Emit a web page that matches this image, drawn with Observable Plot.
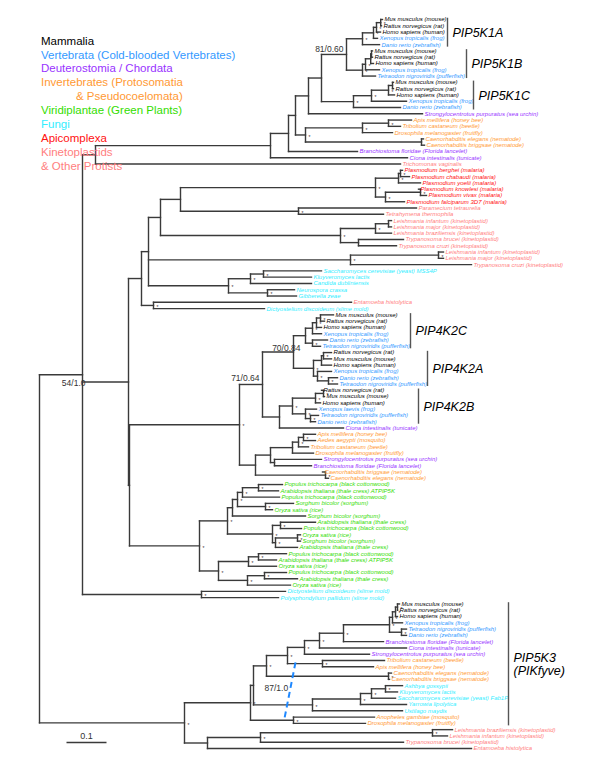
<!DOCTYPE html>
<html><head><meta charset="utf-8">
<script src="https://cdn.jsdelivr.net/npm/d3@7"></script>
<script src="https://cdn.jsdelivr.net/npm/@observablehq/plot@0.6"></script>
<style>
body{margin:0;background:#fff}
#wrap{position:relative;width:600px;height:776px;overflow:hidden;font-family:"Liberation Sans",Arial,Helvetica,sans-serif}
#wrap svg{display:block}
.lg{position:absolute;font-size:11.5px;line-height:13px;white-space:nowrap}
</style>
</head><body><div id="wrap"></div>
<script>
// ---------- DATA ----------
const leafNames = [
"Mus musculus (mouse)","Rattus norvegicus (rat)","Homo sapiens (human)","Xenopus tropicalis (frog)","Danio rerio (zebrafish)",
"Mus musculus (mouse)","Rattus norvegicus (rat)","Homo sapiens (human)","Xenopus tropicalis (frog)","Tetraodon nigroviridis (pufferfish)",
"Mus musculus (mouse)","Rattus norvegicus (rat)","Homo sapiens (human)","Xenopus tropicalis (frog)","Danio rerio (zebrafish)",
"Strongylocentrotus purpuratus (sea urchin)","Apis mellifera (honey bee)","Tribolium castaneum (beetle)","Drosophila melanogaster (fruitfly)","Caenorhabditis elegans (nematode)","Caenorhabditis briggsae (nematode)",
"Branchiostoma floridae (Florida lancelet)","Ciona intestinalis (tunicate)","Trichomonas vaginalis",
"Plasmodium berghei (malaria)","Plasmodium chabaudi (malaria)","Plasmodium yoelii (malaria)","Plasmodium knowlesi (malaria)","Plasmodium vivax (malaria)","Plasmodium falciparum 3D7 (malaria)",
"Paramecium tetraurelia","Tetrahymena thermophila",
"Leishmania infantum (kinetoplastid)","Leishmania major (kinetoplastid)","Leishmania braziliensis (kinetoplastid)","Trypanosoma brucei (kinetoplastid)","Trypanosoma cruzi (kinetoplastid)",
"Leishmania infantum (kinetoplastid)","Leishmania major (kinetoplastid)","Trypanosoma cruzi (kinetoplastid)",
"Saccharomyces cerevisiae (yeast) MSS4P","Kluyveromyces lactis","Candida dubliniensis","Neurospora crassa","Gibberella zeae",
"Entamoeba histolytica","Dictyostelium discoideum (slime mold)",
"Mus musculus (mouse)","Rattus norvegicus (rat)","Homo sapiens (human)","Xenopus tropicalis (frog)","Danio rerio (zebrafish)","Tetraodon nigroviridis (pufferfish)",
"Rattus norvegicus (rat)","Mus musculus (mouse)","Homo sapiens (human)","Xenopus tropicalis (frog)","Danio rerio (zebrafish)","Tetraodon nigroviridis (pufferfish)",
"Rattus norvegicus (rat)","Mus musculus (mouse)","Homo sapiens (human)","Xenopus laevis (frog)","Tetraodon nigroviridis (pufferfish)","Danio rerio (zebrafish)",
"Ciona intestinalis (tunicate)","Apis mellifera (honey bee)","Aedes aegypti (mosquito)","Tribolium castaneum (beetle)","Drosophila melanogaster (fruitfly)","Strongylocentrotus purpuratus (sea urchin)","Branchiostoma floridae (Florida lancelet)","Caenorhabditis briggsae (nematode)","Caenorhabditis elegans (nematode)",
"Populus trichocarpa (black cottonwood)","Arabidopsis thaliana (thale cress) ATPIP5K","Populus trichocarpa (black cottonwood)","Sorghum bicolor (sorghum)","Oryza sativa (rice)","Sorghum bicolor (sorghum)","Arabidopsis thaliana (thale cress)","Populus trichocarpa (black cottonwood)","Oryza sativa (rice)","Sorghum bicolor (sorghum)","Arabidopsis thaliana (thale cress)","Populus trichocarpa (black cottonwood)","Arabidopsis thaliana (thale cress) ATPIP5K","Oryza sativa (rice)","Populus trichocarpa (black cottonwood)","Arabidopsis thaliana (thale cress)","Oryza sativa (rice)",
"Dictyostelium discoideum (slime mold)","Polysphondylium pallidum (slime mold)",
"Mus musculus (mouse)","Rattus norvegicus (rat)","Homo sapiens (human)","Xenopus tropicalis (frog)","Tetraodon nigroviridis (pufferfish)","Danio rerio (zebrafish)","Branchiostoma floridae (Florida lancelet)","Ciona intestinalis (tunicate)","Strongylocentrotus purpuratus (sea urchin)","Tribolium castaneum (beetle)","Apis mellifera (honey bee)","Caenorhabditis elegans (nematode)","Caenorhabditis briggsae (nematode)",
"Ashbya gossypii","Kluyveromyces lactis","Saccharomyces cerevisiae (yeast) Fab1P","Yarrowia lipolytica","Ustilago maydis","Anopheles gambiae (mosquito)","Drosophila melanogaster (fruitfly)",
"Leishmania braziliensis (kinetoplastid)","Leishmania infantum (kinetoplastid)","Trypanosoma brucei (kinetoplastid)","Entamoeba histolytica"
];
// taxon group of every leaf (M mammal, V vertebrate, D deuterostome, I invertebrate, P plant, F fungus, A apicomplexa, K protist)
const leafGroups = ("MMMVV"+"MMMVV"+"MMMVV"+"D"+"IIIII"+"DD"+"K"+"AAAAAA"+"KKKKKKKKKK"+"FFFFF"+"K"+"F"+
  "MMMVVV"+"MMMVVV"+"MMMVVV"+"D"+"IIII"+"DD"+"II"+"PPPPPPPPPPPPPPPPP"+"FF"+
  "MMMVVV"+"DDD"+"IIII"+"FFFFF"+"II"+"KKKK").split("");
// distance of each leaf from the root (substitutions / site)
const leafDepth = [
0.8575,0.855,0.8525,0.845,0.85, 0.8325,0.8325,0.835,0.85,0.84, 0.885,0.885,0.8875,0.9175,0.9025,
0.9575,0.93,0.9025,0.8825,0.96,0.9625, 0.795,0.92,0.9025,
0.9075,0.925,0.9525,0.9475,0.9675,0.9125, 0.9425,0.86,
0.88,0.88,0.88,0.91,0.8925, 1.01,1.01,1.08,
0.705,0.68,0.68,0.6375,0.6425, 0.78,0.5625,
0.735,0.7125,0.705,0.705,0.72,0.7025, 0.73,0.73,0.73,0.73,0.745,0.745, 0.705,0.7125,0.7025,0.6925,0.6975,0.69,
0.76,0.69,0.69,0.6725,0.685,0.705,0.68,0.7075,0.7225,
0.6075,0.5975,0.6,0.635,0.5825,0.665,0.69,0.655,0.6525,0.6525,0.645,0.6175,0.5925,0.5925,0.6175,0.645,0.6275,
0.615,0.5975,
0.9,0.895,0.895,0.9075,0.9175,0.9175,0.86,0.9175,0.825,0.8625,0.835,0.88,0.875,
0.9075,0.895,0.89,0.9175,0.9075,0.8375,0.815,
1.0325,1.02,0.91,1.08
];
// subtrees: leaves are numbered 1..117, internal nodes carry their distance from the root
const tPIP5K1A = "((((1,2)*:0.853,3)*:0.8425,4)*:0.835,5)*:0.8075";
const tPIP5K1B = "((((6,7):0.830,8):0.828,9)*:0.815,10)*:0.8075";
const tPIP5K1C = "((((11,12):0.8825,13)*:0.8725,14)*:0.83,15)*:0.785";
const tInvertA = "(((17,18)*:0.8725,19)*:0.8075,(20,21):0.955)*:0.665";
const tPlasmod = "(((25,26)*:0.9025,27)*:0.8975,((28,29)*:0.9525,30)*:0.865)*:0.84";
const tCiliate = "(31,32)*:0.6475";
const tKinet1 = "(((33,34):0.8725,35)*:0.84,(36,37):0.7975)*:0.7525";
const tKinet2 = "((38,39)*:0.9975,40)*:0.7775";
const tFungi1 = "(((41,42)*:0.56,43)*:0.5275,(44,45)*:0.57)*:0.4725";
const tEntDic = "(46,47)*:0.285";
const tPIP4K2C = "((((48,49)*:0.7025,50)*:0.6925,51)*:0.6825,(52,53)*:0.6825):0.665";
const tPIP4K2A = "(((54,55)*:0.71,56):0.705,(57,(58,59)*:0.7225)*:0.695)*:0.685";
const tPIP4K2B = "(((60,61)*:0.71,62)*:0.69,(63,(64,65)*:0.6775)*:0.665)*:0.6325";
const tInvert4 = "(((((67,68)*:0.66,69)*:0.6475,70):0.6325,(71,72):0.5875):0.5775,(73,74)*:0.715):0.54";
const tPlants1 = "((((75,76)*:0.5475,77)*:0.5075,(78,79)*:0.565)*:0.495,80):0.4825";
const tPlants2 = "((81,82)*:0.6025,((83,84)*:0.645,85)*:0.59)*:0.5825";
const tPlants3 = "(((86,87)*:0.5475,88)*:0.5225,((89,90)*:0.5625,91)*:0.52)*:0.4475";
const tSlime = "(92,93)*:0.405";
const tVert3 = "((((94,95)*:0.895,96)*:0.89,97)*:0.8825,(98,99)*:0.905)*:0.875";
const tFungi3 = "((((107,108)*:0.865,109)*:0.83,110)*:0.8025,111)*:0.6825";
const tKinet3 = "(((114,115)*:0.9825,116)*:0.5525,117):0.42";

const cladeNames = ["PIP5K1A","PIP5K1B","PIP5K1C","PIP4K2C","PIP4K2A","PIP4K2B","PIP5K3\n(PIKfyve)"];
const cladeFirst = [1,6,11,48,54,60,94];
const cladeLast  = [5,10,15,53,59,65,113];

const legendLabels = ["Mammalia","Vertebrata (Cold-blooded Vertebrates)","Deuterostomia / Chordata","Invertebrates (Protosomatia","& Pseudocoelomata)","Viridiplantae (Green Plants)","Fungi","Apicomplexa","Kinetoplastids","& Other Protists"];
const legendGroups = ["M","V","D","I","I","P","F","A","K","K"];

// ---------- STYLE ----------
const groupColor = {M:"#000000",V:"#3399ff",D:"#9933ff",I:"#ff9933",P:"#33dd00",F:"#33eeff",A:"#ff1111",K:"#ff8080"};

// ---------- TREE ----------
const tUpperPIP5K1 = "(((((" + tPIP5K1A + "," + tPIP5K1B + ")'81/0.60':0.7675," + tPIP5K1C + "):0.705,16):0.6725," + tInvertA + "):0.64,22):0.6225";
const tUpper = "((" + tUpperPIP5K1 + ",23):0.5775,24):0.14";
const tProtX = "((" + tPlasmod + "," + tCiliate + "):0.3525," + tKinet1 + "):0.3025";
const tProt = "((" + tProtX + "," + tKinet2 + "," + tFungi1 + "):0.2725," + tEntDic + "):0.255";
const tPIP4K = "(((" + tPIP4K2C + "," + tPIP4K2A + ")'70/0.84':0.635,(" + tPIP4K2B + ",66):0.6)'71/0.64':0.5575," + tInvert4 + ")*:0.5";
const tPlants = "((" + tPlants1 + "," + tPlants2 + ")*:0.47," + tPlants3 + ")*:0.4";
const tN128 = "(" + tProt + ",(" + tPIP4K + "," + tPlants + "):0.225):0.2225";
const tDeut3 = "(((" + tVert3 + ",100)*:0.76,101)*:0.7,102)*:0.6625";
const tLow3 = "((" + tDeut3 + ",(103,104)*:0.7075)*:0.62,(105,106)*:0.8725)*:0.5675";
const tPIP5K3 = "((" + tLow3 + "," + tFungi3 + ")'87/1.0':0.535,(112,113)*:0.635)*:0.5275";
const treeNewick = "((" + tUpper + "," + tN128 + "," + tSlime + ")'54/1.0':0.1075,(" + tPIP5K3 + "," + tKinet3 + ")*:0.3625):0";

function parseNewick(str){
  const s = str.replace(/\s+/g,"");
  let i = 0;
  function node(){
    const n = {children: []};
    if (s[i] === "(") {
      i++;
      n.children.push(node());
      while (s[i] === ",") { i++; n.children.push(node()); }
      i++;
    }
    let lab = "";
    if (s[i] === "'") { i++; while (s[i] !== "'") lab += s[i++]; i++; }
    else while (i < s.length && !",():".includes(s[i])) lab += s[i++];
    let len = null;
    if (s[i] === ":") { i++; let num = ""; while (i < s.length && !",()".includes(s[i])) num += s[i++]; len = +num; }
    n.label = lab; n.depth = len;
    return n;
  }
  return node();
}
const root = parseNewick(treeNewick);
const nodes = [], hEdges = [], vEdges = [];
(function walk(n){
  if (!n.children.length) { n.leaf = +n.label; n.y = n.leaf - 1; n.depth = leafDepth[n.leaf - 1]; n.label = ""; }
  else {
    n.children.forEach(walk);
    const a = n.children[0].y, b = n.children[n.children.length - 1].y;
    n.y = (a + b) / 2;
    vEdges.push({x: n.depth, y1: a, y2: b});
  }
  nodes.push(n);
})(root);
nodes.forEach(n => n.children.forEach(c => hEdges.push({x1: n.depth, x2: c.depth, y: c.y})));
const leaves = nodes.filter(n => n.leaf).sort((a, b) => a.leaf - b.leaf);
const stars = nodes.filter(n => n.label === "*");
const supports = nodes.filter(n => n.label && n.label !== "*");

const labelOffset = {"81/0.60":[-3,-5,"end"],"70/0.84":[7,-4,"end"],"71/0.64":[-3,-6,"end"],"54/1.0":[3,9,"end"],"87/1.0":[11,3,"start"]};
const cladeBarX = [1.02,1.0675,1.085,0.9275,0.97,0.9475,1.1725];
const clades = cladeNames.map((name, k) => ({name, x: cladeBarX[k], y1: cladeFirst[k] - 1.2, y2: cladeLast[k] - 1 + 0.4, ym: (cladeFirst[k] + cladeLast[k]) / 2 - 1 + 0.1}));

const ink = "#3a3a3a";
const marks = [
  Plot.link(hEdges, {x1: "x1", x2: "x2", y1: "y", y2: "y", stroke: ink, strokeWidth: 1.4, strokeLinecap: "square"}),
  Plot.link(vEdges, {x1: "x", x2: "x", y1: "y1", y2: "y2", stroke: ink, strokeWidth: 1.4, strokeLinecap: "square"}),
  Plot.text(stars, {x: "depth", y: "y", text: () => "*", dx: 3, dy: 2, fontSize: 5, fill: "#333", textAnchor: "start"}),
  Plot.text(leaves, {x: "depth", y: "y", text: d => leafNames[d.leaf - 1], fill: d => groupColor[leafGroups[d.leaf - 1]], textAnchor: "start", dx: 2, fontSize: 6, fontStyle: "italic"}),
  Plot.ruleX(clades, {x: "x", y1: "y1", y2: "y2", stroke: "#555", strokeWidth: 1.4}),
  Plot.text(clades, {x: "x", y: "ym", text: "name", dx: 5, textAnchor: "start", fontSize: 12.5, fontStyle: "italic", fill: "#000", lineHeight: 1.05}),
  Plot.link([{x1: 0.64, x2: 0.6125, y1: 102.3, y2: 111.2}], {x1: "x1", x2: "x2", y1: "y1", y2: "y2", stroke: "#1e88ff", strokeWidth: 2, strokeDasharray: "6,4"}),
  Plot.link([{a: 0.0675, b: 0.1675, y: 115.05}], {x1: "a", x2: "b", y1: "y", y2: "y", stroke: ink, strokeWidth: 1.4}),
  Plot.text([{x: 0.1175, y: 115.05, t: "0.1"}], {x: "x", y: "y", text: "t", dy: -6, fontSize: 9, fill: "#333"})
];
supports.forEach(n => {
  const o = labelOffset[n.label] || [0, 0, "middle"];
  marks.push(Plot.text([n], {x: "depth", y: "y", text: "label", dx: o[0], dy: o[1], textAnchor: o[2], fontSize: 8.5, fill: "#333"}));
});

const chart = Plot.plot({
  width: 600, height: 776, margin: 0,
  x: {domain: [0, 1.4], range: [39, 599], axis: null},
  y: {domain: [0, 116], range: [19, 748], axis: null},
  color: {type: "identity"},
  style: {fontFamily: "'Liberation Sans', Arial, Helvetica, sans-serif", background: "transparent"},
  marks
});
const wrap = document.getElementById("wrap");
wrap.appendChild(chart);
const legendY = [42, 55.5, 69, 83, 97, 111, 125, 139, 153, 167];
legendLabels.forEach((t, k) => {
  const d = document.createElement("div");
  d.className = "lg";
  d.textContent = t;
  d.style.color = groupColor[legendGroups[k]];
  d.style.left = (t === "& Pseudocoelomata)" ? 76 : 41) + "px";
  d.style.top = (legendY[k] - 7) + "px";
  wrap.appendChild(d);
});
</script>
</body></html>
